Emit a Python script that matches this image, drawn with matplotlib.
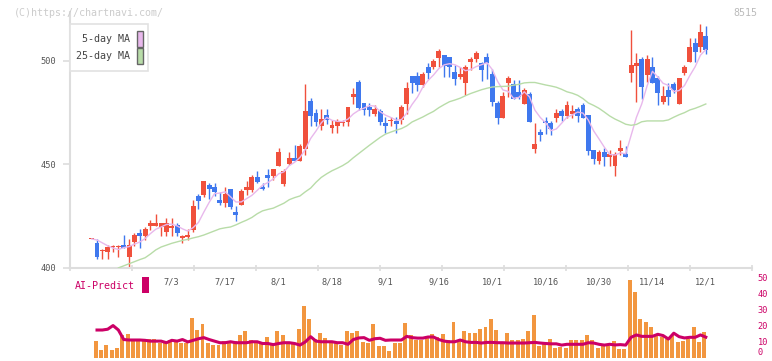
import matplotlib
matplotlib.use('Agg')
import matplotlib.pyplot as plt
from matplotlib.patches import Rectangle
import numpy as np

# daily candles, oldest first (price in yen)
opens = [413.7, 411.8, 408.0, 407.7, 409.9, 409.9, 411.0, 405.3, 412.6, 416.8,
         415.5, 420.2, 420.2, 419.5, 417.4, 419.4, 420.6, 414.6, 414.7, 418.2,
         434.7, 435.2, 440.0, 439.0, 432.7, 431.4, 438.1, 426.9, 430.3, 437.6,
         437.6, 443.9, 439.2, 444.8, 444.5, 449.3, 440.6, 450.3, 452.9, 451.6,
         457.4, 480.6, 474.8, 468.7, 473.9, 467.7, 468.7, 470.0, 470.6, 482.7,
         489.7, 479.7, 477.7, 474.5, 475.8, 470.0, 470.9, 471.0, 471.4, 479.2,
         492.7, 492.7, 488.5, 496.9, 496.9, 501.4, 502.8, 501.8, 494.7, 492.4,
         489.5, 499.7, 500.8, 498.9, 501.8, 493.7, 479.7, 472.4, 489.5, 488.9,
         485.0, 479.2, 484.0, 457.6, 465.6, 471.1, 470.1, 472.6, 475.8, 473.5,
         474.5, 476.8, 478.7, 473.9, 456.9, 451.8, 456.0, 453.7, 449.2, 456.6,
         455.0, 494.3, 497.7, 501.0, 493.4, 497.1, 491.8, 480.2, 486.0, 488.9,
         479.3, 494.3, 499.7, 508.6, 506.6, 512.1]
highs = [413.7, 413.9, 409.0, 411.0, 411.0, 411.2, 415.8, 413.9, 416.8, 418.7,
         419.7, 423.1, 426.0, 421.7, 424.0, 424.0, 421.6, 415.8, 418.7, 432.7,
         435.7, 442.0, 441.1, 440.8, 436.8, 439.2, 438.2, 429.8, 438.1, 441.9,
         444.8, 446.8, 440.8, 447.7, 447.9, 457.8, 447.7, 455.8, 459.4, 459.8,
         488.9, 482.1, 476.8, 476.8, 476.8, 471.4, 471.9, 471.4, 477.8, 486.8,
         490.7, 479.8, 479.7, 478.7, 476.8, 472.9, 472.9, 472.9, 478.7, 489.8,
         492.8, 494.7, 494.7, 498.9, 501.1, 505.7, 502.9, 501.9, 497.9, 496.9,
         497.9, 501.8, 504.8, 499.5, 503.9, 496.3, 480.6, 485.0, 492.7, 490.8,
         490.8, 486.9, 485.0, 469.9, 467.2, 473.0, 471.1, 476.8, 476.8, 480.6,
         478.7, 477.7, 479.7, 474.0, 457.0, 456.9, 457.9, 456.9, 456.0, 461.8,
         458.9, 515.1, 503.9, 501.9, 502.9, 501.9, 492.7, 487.9, 489.5, 489.8,
         491.9, 498.1, 511.1, 511.1, 517.9, 516.9]
lows = [413.7, 404.4, 404.4, 404.4, 407.4, 405.3, 409.5, 400.5, 410.5, 409.7,
        413.4, 418.2, 420.0, 415.5, 415.5, 415.5, 415.5, 412.0, 413.4, 417.4,
        428.5, 434.4, 433.4, 434.7, 430.3, 429.2, 428.5, 422.7, 430.1, 435.2,
        436.8, 440.8, 437.6, 438.9, 442.4, 449.1, 439.7, 449.7, 451.5, 451.5,
        454.5, 468.5, 468.5, 466.6, 469.7, 465.3, 465.3, 468.7, 468.7, 479.3,
        476.4, 473.9, 473.5, 473.5, 469.0, 465.3, 468.7, 465.3, 469.5, 474.4,
        484.7, 485.6, 487.6, 491.4, 496.3, 496.9, 492.4, 492.4, 488.5, 491.4,
        483.7, 495.6, 499.7, 490.5, 491.4, 478.2, 469.5, 472.3, 482.7, 481.7,
        481.8, 479.1, 470.4, 455.6, 461.4, 464.7, 464.3, 470.6, 471.0, 472.6,
        472.6, 470.6, 472.5, 454.7, 450.2, 450.2, 449.2, 449.2, 444.4, 454.7,
        453.6, 489.8, 480.3, 481.8, 489.8, 489.4, 478.6, 479.2, 478.6, 484.7,
        479.2, 493.4, 499.6, 499.7, 504.5, 503.4]
closes = [413.7, 405.3, 408.3, 410.0, 410.1, 410.2, 409.7, 411.0, 415.8, 415.5,
          418.7, 421.5, 421.5, 421.5, 421.5, 419.6, 416.8, 414.8, 415.8, 429.8,
          432.4, 441.9, 437.9, 436.8, 431.4, 435.7, 429.5, 425.5, 437.1, 439.0,
          443.9, 441.6, 437.9, 443.5, 447.7, 456.1, 446.8, 452.9, 451.6, 458.9,
          475.8, 473.5, 470.6, 471.9, 471.6, 469.0, 471.0, 470.2, 477.7, 484.2,
          477.4, 476.4, 476.4, 476.8, 470.6, 468.7, 471.1, 469.7, 477.7, 486.9,
          489.5, 488.5, 493.7, 494.3, 500.0, 504.8, 497.7, 496.9, 491.4, 493.7,
          496.9, 500.8, 503.9, 495.6, 498.9, 480.2, 472.4, 483.1, 491.8, 481.8,
          482.7, 486.0, 470.5, 459.8, 464.3, 469.9, 466.9, 474.8, 473.5, 478.7,
          475.8, 473.5, 472.6, 456.6, 452.7, 456.0, 453.7, 455.0, 455.0, 457.9,
          453.7, 498.1, 499.0, 487.5, 501.0, 489.5, 484.7, 483.1, 482.7, 486.0,
          491.8, 497.1, 506.8, 504.5, 514.0, 505.3]

ma5 = [413.9, 413.4, 412.0, 410.6, 409.5, 408.8, 409.7, 410.2, 411.4, 412.4,
       414.1, 416.5, 418.6, 419.7, 420.9, 421.1, 420.2, 418.8, 417.7, 419.4,
       421.9, 426.9, 431.6, 435.8, 436.1, 436.7, 434.3, 431.8, 431.8, 433.4,
       435.0, 437.4, 439.9, 441.2, 442.9, 445.4, 446.4, 449.4, 451.0, 453.3,
       457.2, 462.5, 466.1, 470.1, 472.7, 471.3, 470.8, 470.7, 471.9, 474.4,
       476.1, 477.2, 478.4, 478.2, 475.5, 473.8, 472.7, 471.4, 471.6, 474.8,
       479.0, 482.5, 487.3, 490.6, 493.2, 496.3, 498.1, 498.7, 498.2, 496.9,
       495.3, 495.9, 497.3, 498.2, 499.2, 495.9, 490.2, 486.0, 485.3, 481.9,
       482.4, 485.1, 482.6, 476.2, 472.7, 470.1, 466.3, 467.1, 469.9, 472.8,
       473.9, 475.3, 474.8, 471.4, 466.2, 462.3, 458.3, 454.8, 454.5, 455.5,
       455.1, 463.9, 472.7, 479.2, 487.9, 495.0, 492.3, 489.2, 488.2, 485.2,
       485.7, 488.1, 492.9, 497.2, 502.8, 505.5]
nan = float('nan')
ma25 = [nan, nan, nan, nan, nan, 399.9,
        400.9, 401.9, 402.9, 403.9, 404.8, 406.6, 408.6, 410.0, 410.9, 411.8,
        412.5, 413.2, 413.7, 414.4, 415.0, 415.8, 416.8, 417.8, 418.8, 419.3,
        419.7, 420.7, 421.9, 423.0, 424.3, 426.1, 427.5, 428.2, 428.8, 430.0,
        431.2, 432.9, 433.9, 434.7, 436.7, 438.5, 441.3, 443.7, 445.4, 446.9,
        448.1, 449.4, 451.0, 453.2, 455.2, 457.2, 459.2, 461.1, 463.0, 464.6,
        465.6, 466.5, 467.3, 468.6, 470.5, 471.7, 472.9, 474.3, 475.6, 477.4,
        478.9, 480.3, 481.1, 482.0, 483.2, 484.3, 485.2, 486.1, 486.8, 487.4,
        487.6, 487.7, 487.8, 488.3, 488.7, 489.4, 489.6, 489.6, 489.0, 488.4,
        487.9, 487.3, 486.3, 485.1, 484.4, 483.4, 481.8, 479.7, 478.5, 477.1,
        475.3, 473.4, 471.9, 470.7, 469.4, 468.9, 469.3, 470.6, 471.0, 471.0,
        471.0, 471.0, 471.5, 472.8, 474.0, 475.0, 476.3, 477.1, 478.1, 479.2]

volume = [0, 11.0, 5.4, 8.5, 5.4, 6.6, 14.8, 15.4, 11.6, 11.0,
          11.6, 12.3, 12.3, 9.8, 11.0, 11.6, 11.0, 9.8, 9.8, 25.5,
          17.9, 21.7, 9.8, 8.5, 8.5, 11.0, 9.8, 11.0, 14.8, 17.3,
          11.6, 11.0, 9.8, 13.5, 9.8, 17.3, 14.8, 9.8, 9.8, 18.6,
          33.1, 24.9, 12.3, 16.1, 12.9, 10.4, 10.4, 8.5, 17.3, 16.1,
          17.3, 10.4, 9.8, 21.7, 7.9, 7.9, 4.7, 9.8, 9.8, 22.4,
          14.8, 11.6, 11.6, 14.2, 15.4, 13.5, 15.4, 11.6, 23.0, 11.0,
          17.3, 16.1, 16.1, 18.6, 19.8, 24.9, 17.9, 10.4, 16.1, 11.6,
          11.6, 12.3, 17.3, 27.4, 7.9, 9.8, 12.3, 6.6, 7.3, 6.6,
          11.6, 11.6, 11.6, 14.8, 11.6, 6.6, 7.9, 7.9, 11.0, 6.0,
          6.0, 49.5, 41.5, 25.0, 23.0, 19.5, 15.0, 13.5, 12.0, 14.5,
          10.0, 11.0, 12.0, 19.5, 10.0, 16.5]
ai_predict = [nan,
              17.0, 17.0, 17.5, 19.8, 17.0, 11.0, 10.7, 10.7, 10.7, 10.5,
              10.0, 10.0, 10.0, 9.0, 10.5, 10.0, 11.0, 9.5, 10.5, 11.5,
              12.2, 11.0, 10.0, 9.0, 9.0, 9.6, 9.0, 9.0, 9.0, 9.6,
              9.6, 8.5, 8.5, 7.8, 8.5, 9.0, 9.0, 8.5, 7.5, 9.5,
              12.8, 10.0, 9.6, 9.6, 9.6, 9.0, 9.0, 8.0, 11.0, 12.0,
              12.2, 10.5, 11.5, 11.8, 10.5, 10.7, 10.7, 10.7, 13.0, 12.2,
              11.9, 11.9, 12.6, 12.6, 11.0, 10.0, 9.6, 9.6, 10.7, 9.6,
              9.2, 9.2, 8.8, 9.2, 9.2, 9.0, 9.0, 8.8, 8.8, 8.8,
              8.8, 9.0, 9.2, 8.8, 8.5, 8.3, 8.3, 7.5, 8.0, 8.0,
              8.0, 8.0, 9.0, 8.8, 8.0, 7.5, 8.0, 7.6, 7.8, 7.5,
              12.4, 13.9, 13.0, 13.0, 13.0, 14.3, 13.5, 11.3, 15.0, 12.8,
              12.0, 12.4, 12.4, 13.9, 12.5]

date_pos = [15, 25, 35, 45, 55, 65, 75, 85, 95, 105, 115]
date_labels = ['7/3', '7/17', '8/1', '8/18', '9/1', '9/16', '10/1', '10/16',
               '10/30', '11/14', '12/1']

RED = '#f0503c'
BLUE = '#3f78ee'
PINK = '#e8b8ec'
GREEN = '#b8dca8'
MAGENTA = '#cc0066'
ORANGE = '#f2963f'
GRID = '#dddddd'
MONO = 'DejaVu Sans Mono'

W, H = 772, 361
fig = plt.figure(figsize=(W / 100, H / 100), dpi=100)

x = np.arange(len(closes))
xlim = (-4.06, 123.65)

# --- volume / AI panel (drawn first, transparent background)
ax2 = fig.add_axes([70 / W, 1 - 357 / H, 682 / W, 87 / H])
ax2.patch.set_visible(False)
ax2.set_xlim(*xlim)
ax2.set_ylim(0, 54.8)
ax2.bar(x - 0.25, volume, width=0.74, bottom=-0.8, color=ORANGE,
        linewidth=0, zorder=2, clip_on=False)
ax2.plot(x, ai_predict, color=MAGENTA, linewidth=2.2, zorder=3)
for s in ax2.spines.values():
    s.set_visible(False)
ax2.set_xticks([])
ax2.yaxis.tick_right()
ax2.set_yticks([0, 10, 20, 30, 40, 50])
ax2.tick_params(axis='y', length=0, pad=4, labelcolor=MAGENTA, labelsize=6.2)
for t in ax2.get_yticklabels():
    t.set_family(MONO)
ax2.get_yticklabels()[0].set_va('bottom')

# --- price panel
ax = fig.add_axes([70 / W, 1 - 268 / H, 682 / W, 256 / H])
ax.patch.set_visible(False)
ax.set_xlim(*xlim)
ax.set_ylim(399.85, 523.7)

o = np.array(opens)
c = np.array(closes)
up = c >= o
colors = np.where(up, RED, BLUE)
ax.vlines(x, lows, highs, colors=colors, linewidth=1.0, zorder=2)
body_h = np.maximum(np.abs(c - o), 0.55)
ax.bar(x, body_h, bottom=np.minimum(o, c), width=0.92, color=colors,
       linewidth=0, zorder=3)

ax.plot(x, ma5, color=PINK, linewidth=1.0, zorder=4)
ax.plot(x, ma25, color=GREEN, linewidth=1.0, zorder=4)

for s in ['top', 'right']:
    ax.spines[s].set_visible(False)
for s in ['left', 'bottom']:
    ax.spines[s].set_color(GRID)
    ax.spines[s].set_linewidth(1.5)

ax.set_yticks([400, 450, 500])
ax.tick_params(axis='y', colors=GRID, length=5, width=1.2, pad=5,
               labelcolor='#555555', labelsize=6.2)
for t in ax.get_yticklabels():
    t.set_family(MONO)
ax.set_xticks(np.linspace(xlim[0], xlim[1], 12))
ax.tick_params(axis='x', direction='inout', colors=GRID, length=5, width=1.2,
               labelbottom=False)

for p, lab in zip(date_pos, date_labels):
    ax.annotate(lab, xy=(p, 0), xycoords=('data', 'axes fraction'),
                xytext=(0, -14), textcoords='offset pixels', ha='center',
                va='center', fontsize=6.2, family=MONO, color='#555555',
                annotation_clip=False)

# legend box
fig.patches.append(Rectangle((70 / W, 1 - 71 / H), 78 / W, 47 / H,
                             transform=fig.transFigure, facecolor='white',
                             edgecolor='#e2e2e2', linewidth=1.2, zorder=5))
for label, col, yc in [('5-day MA', PINK, 39), ('25-day MA', GREEN, 56)]:
    fig.text(130 / W, 1 - yc / H, label, ha='right', va='center',
             fontsize=7.2, family=MONO, color='#444444', zorder=6)
    fig.patches.append(Rectangle((136.5 / W, 1 - (yc + 7.5) / H), 6 / W,
                                 15 / H, transform=fig.transFigure,
                                 facecolor=col, edgecolor='#666666',
                                 linewidth=1.0, zorder=6))

fig.text(14 / W, 1 - 12.5 / H, '(C)https://chartnavi.com/', ha='left',
         va='center', fontsize=7.2, family=MONO, color='#cccccc')
fig.text(757 / W, 1 - 12.5 / H, '8515', ha='right', va='center',
         fontsize=7.2, family=MONO, color='#bbbbbb')

fig.text(75 / W, 1 - 286 / H, 'AI-Predict', ha='left', va='center',
         fontsize=7.2, family=MONO, color=MAGENTA)
fig.patches.append(Rectangle((142 / W, 1 - 293 / H), 7 / W, 16 / H,
                             transform=fig.transFigure, facecolor=MAGENTA,
                             edgecolor='none'))

fig.savefig('out.png', dpi=100)
